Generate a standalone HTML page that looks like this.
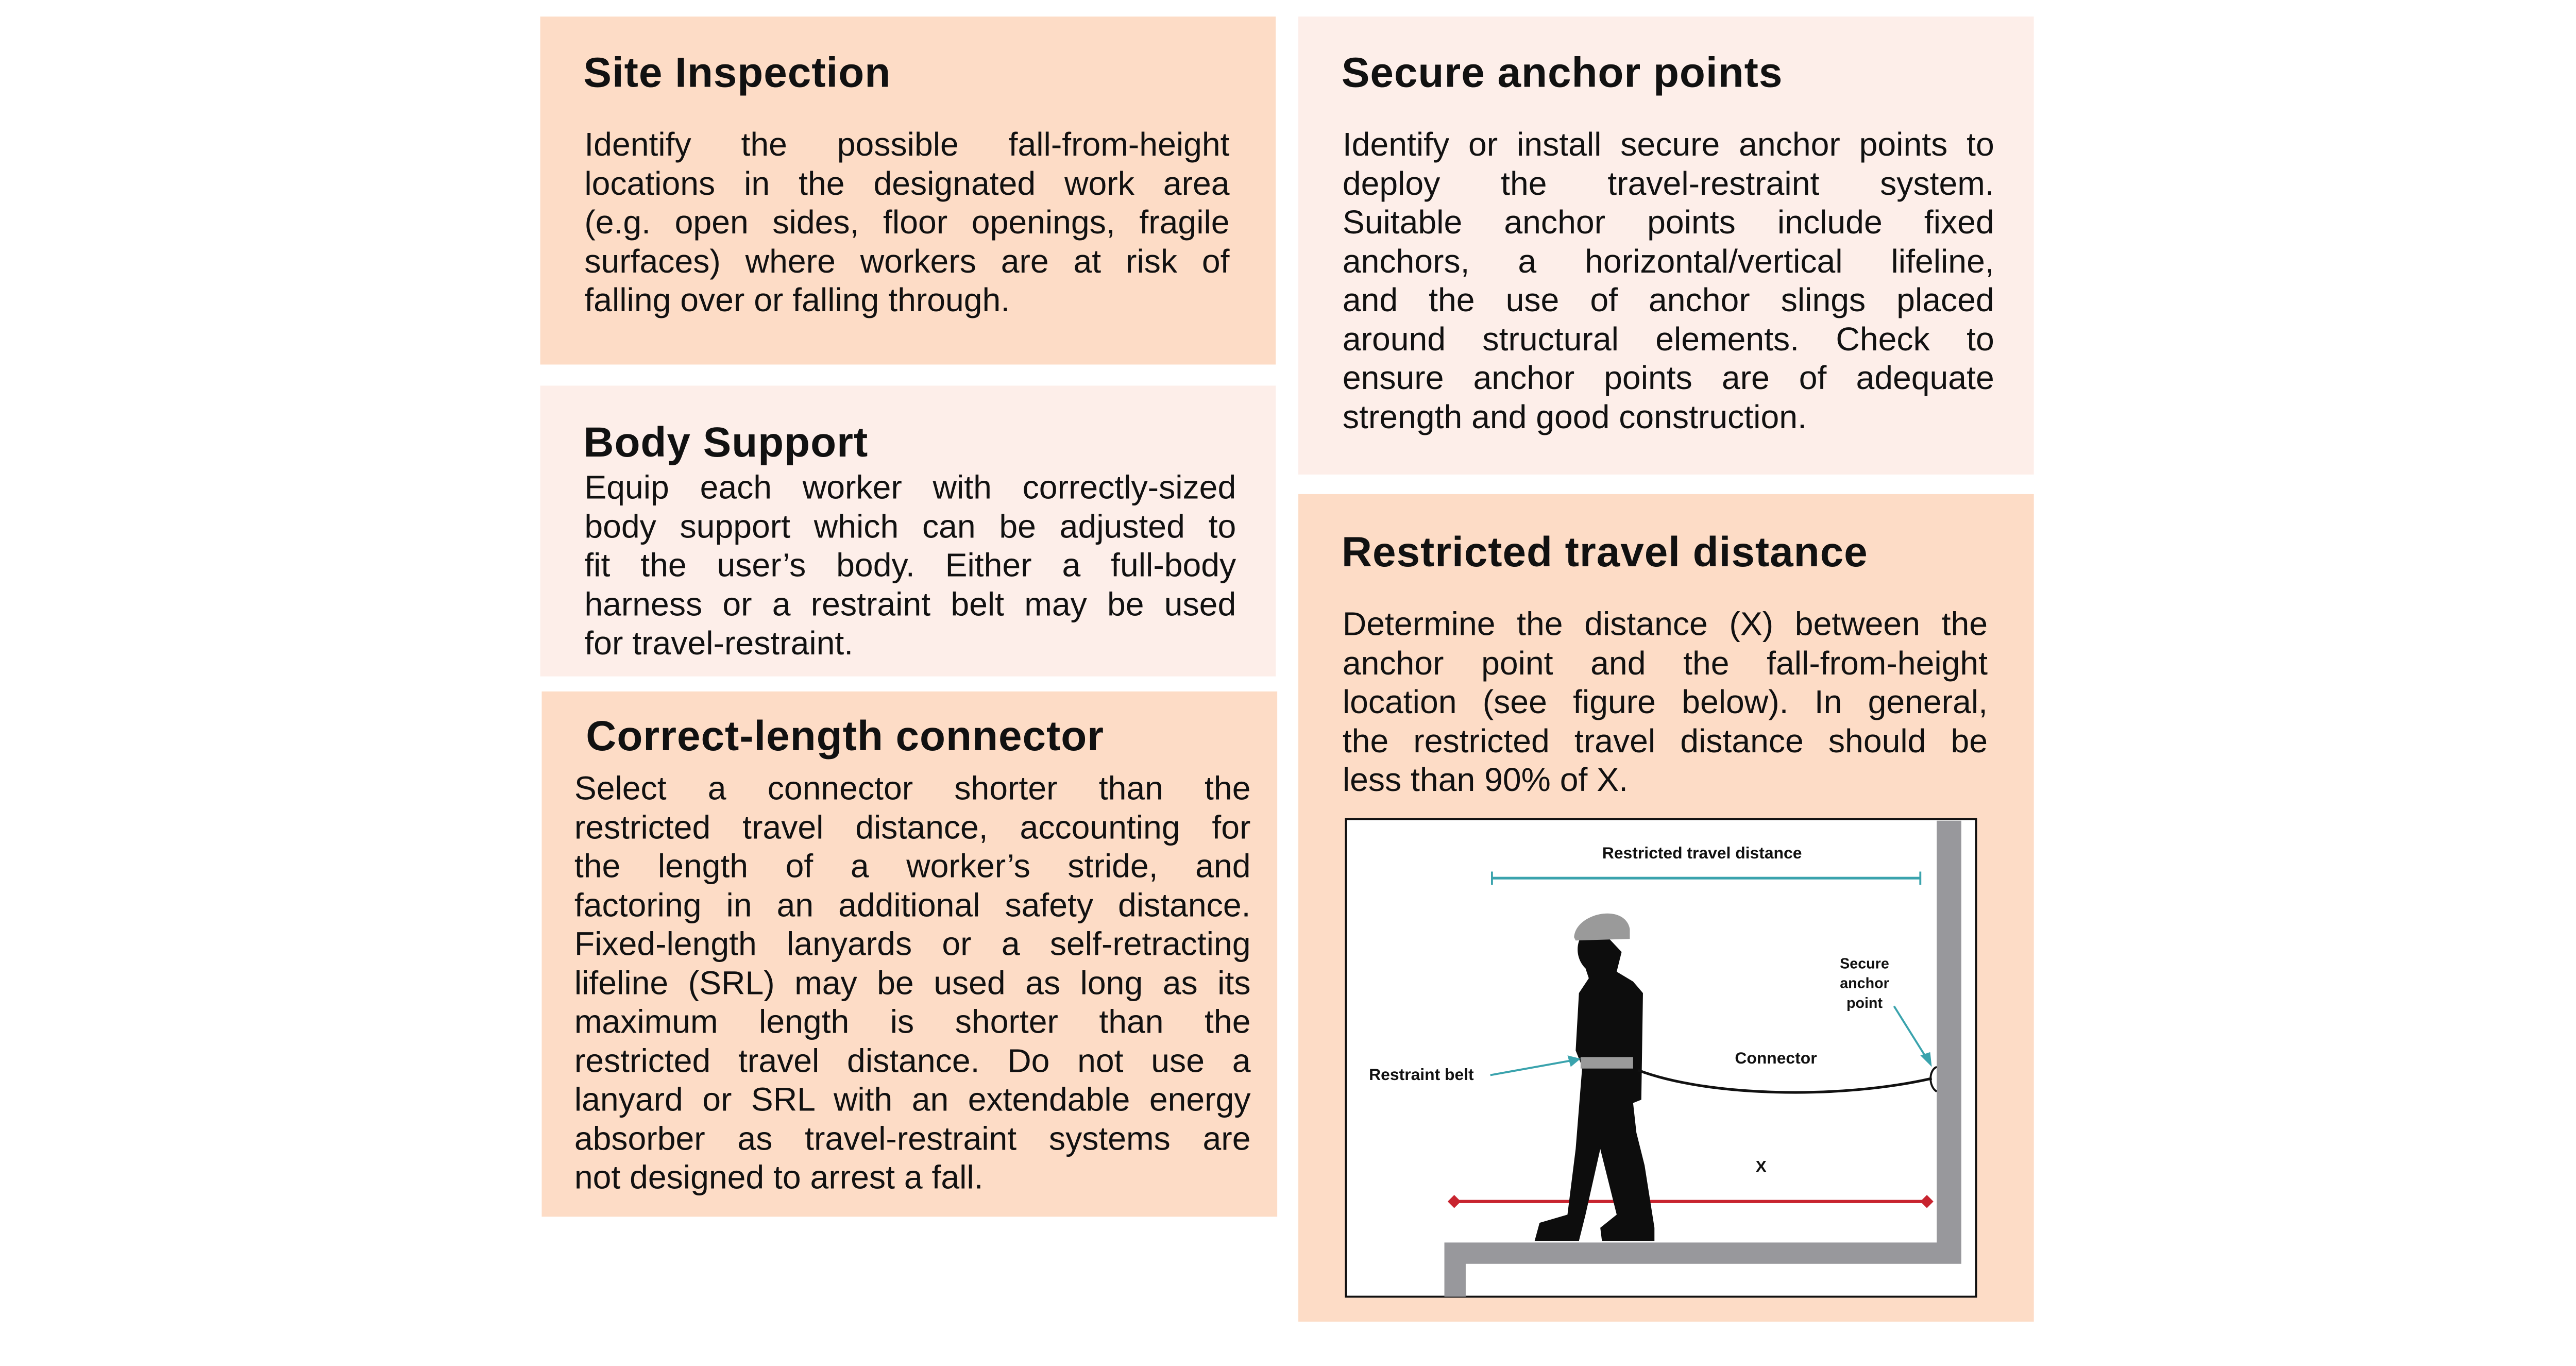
<!DOCTYPE html>
<html><head><meta charset="utf-8"><style>
*{margin:0;padding:0;box-sizing:border-box}
body{width:5100px;height:2651px;background:#fff;position:relative;overflow:hidden;font-family:"Liberation Sans",sans-serif;color:#111}
#w{position:absolute;left:0;top:0;width:5100px;height:2651px;transform:scale(0.9745);transform-origin:0 0}
.box{position:absolute}
.pe{background:#fddcc6}.li{background:#fdeee9}
.t{position:absolute;font-weight:bold;font-size:84px;line-height:100px;white-space:nowrap;letter-spacing:1px}
.b{position:absolute;font-size:66px;line-height:77.5px}
.b div{text-align:justify;text-align-last:justify;white-space:normal}
.b div.l{text-align-last:left}
</style></head><body><div id="w">
<div class="box pe" style="left:1076px;top:33px;width:1465px;height:693px"></div>
<div class="box li" style="left:1076px;top:768px;width:1465px;height:579px"></div>
<div class="box pe" style="left:1079px;top:1377px;width:1465px;height:1046px"></div>
<div class="box li" style="left:2586px;top:33px;width:1465px;height:912px"></div>
<div class="box pe" style="left:2586px;top:984px;width:1465px;height:1648px"></div>

<div class="t" style="left:1162px;top:94px">Site Inspection</div>
<div class="b" style="left:1164px;top:249px;width:1285px">
<div>Identify the possible fall-from-height</div>
<div>locations in the designated work area</div>
<div>(e.g. open sides, floor openings, fragile</div>
<div>surfaces) where workers are at risk of</div>
<div class="l">falling over or falling through.</div>
</div>

<div class="t" style="left:1162px;top:830px">Body Support</div>
<div class="b" style="left:1164px;top:932px;width:1298px">
<div>Equip each worker with correctly-sized</div>
<div>body support which can be adjusted to</div>
<div>fit the user’s body. Either a full-body</div>
<div>harness or a restraint belt may be used</div>
<div class="l">for travel-restraint.</div>
</div>

<div class="t" style="left:1167px;top:1415px">Correct-length connector</div>
<div class="b" style="left:1144px;top:1531px;width:1347px">
<div>Select a connector shorter than the</div>
<div>restricted travel distance, accounting for</div>
<div>the length of a worker’s stride, and</div>
<div>factoring in an additional safety distance.</div>
<div>Fixed-length lanyards or a self-retracting</div>
<div>lifeline (SRL) may be used as long as its</div>
<div>maximum length is shorter than the</div>
<div>restricted travel distance. Do not use a</div>
<div>lanyard or SRL with an extendable energy</div>
<div>absorber as travel-restraint systems are</div>
<div class="l">not designed to arrest a fall.</div>
</div>

<div class="t" style="left:2672px;top:94px">Secure anchor points</div>
<div class="b" style="left:2674px;top:249px;width:1298px">
<div>Identify or install secure anchor points to</div>
<div>deploy the travel-restraint system.</div>
<div>Suitable anchor points include fixed</div>
<div>anchors, a horizontal/vertical lifeline,</div>
<div>and the use of anchor slings placed</div>
<div>around structural elements. Check to</div>
<div>ensure anchor points are of adequate</div>
<div class="l">strength and good construction.</div>
</div>

<div class="t" style="left:2672px;top:1049px">Restricted travel distance</div>
<div class="b" style="left:2674px;top:1204px;width:1285px">
<div>Determine the distance (X) between the</div>
<div>anchor point and the fall-from-height</div>
<div>location (see figure below). In general,</div>
<div>the restricted travel distance should be</div>
<div class="l">less than 90% of X.</div>
</div>

<svg style="position:absolute;left:0;top:0" width="5100" height="2651" viewBox="0 0 1560 811">
<rect x="820" y="499" width="384" height="291" fill="#fff" stroke="#111" stroke-width="1.2"/>
<path d="M1180 500 H1195 V770 H893 V790 H880 V757 H1180 Z" fill="#98989c"/>
<line x1="909" y1="535" x2="1170" y2="535" stroke="#3aa3ad" stroke-width="1.6"/>
<line x1="909" y1="531" x2="909" y2="539" stroke="#3aa3ad" stroke-width="1.2"/>
<line x1="1170" y1="531" x2="1170" y2="539" stroke="#3aa3ad" stroke-width="1.2"/>
<text x="1037" y="523" font-size="10" font-weight="bold" text-anchor="middle" font-family="Liberation Sans" fill="#111">Restricted travel distance</text>
<line x1="886" y1="732" x2="1174" y2="732" stroke="#c8242f" stroke-width="2"/>
<path d="M886 728 L890 732 L886 736 L882 732Z M1174 728 L1178 732 L1174 736 L1170 732Z" fill="#c8242f"/>
<text x="1073" y="714" font-size="10" font-weight="bold" text-anchor="middle" font-family="Liberation Sans" fill="#111">X</text>
<path d="M972 563 C960 568 958 582 966 590 L968 596 L962 605 L960 640 L964 650 L960 700 L955 740 L938 745 L935 756 L962 756 L966 740 L975 700 L985 740 L975 748 L976 756 L1008 756 L1008 748 L1002 710 L997 690 L995 672 L1000 670 L1001 605 L995 598 L985 592 L988 580 Z" fill="#0d0d0d"/>
<path d="M959 571 C960 556 990 550 993 566 L993 572 L960 573Z" fill="#9a9a9a"/>
<rect x="963" y="644" width="32" height="7" fill="#9a9a9a"/>
<path d="M998 652 C1040 668 1120 670 1177 657" fill="none" stroke="#111" stroke-width="1.6"/>
<path d="M1180 650 C1175 652 1175 662 1180 665" fill="none" stroke="#111" stroke-width="1.2"/>
<text x="1082" y="648" font-size="10" font-weight="bold" text-anchor="middle" font-family="Liberation Sans" fill="#111">Connector</text>
<text x="866" y="658" font-size="10" font-weight="bold" text-anchor="middle" font-family="Liberation Sans" fill="#111">Restraint belt</text>
<line x1="908" y1="655" x2="958" y2="646" stroke="#3aa3ad" stroke-width="1.2"/>
<path d="M963 645 L955 643 L957 650Z" fill="#3aa3ad"/>
<text font-size="9" font-weight="bold" text-anchor="middle" font-family="Liberation Sans" fill="#111"><tspan x="1136" y="590">Secure</tspan><tspan x="1136" y="602">anchor</tspan><tspan x="1136" y="614">point</tspan></text>
<line x1="1154" y1="613" x2="1174" y2="645" stroke="#3aa3ad" stroke-width="1.2"/>
<path d="M1177 650 L1170 643 L1176 641Z" fill="#3aa3ad"/>
</svg>
</div></body></html>
